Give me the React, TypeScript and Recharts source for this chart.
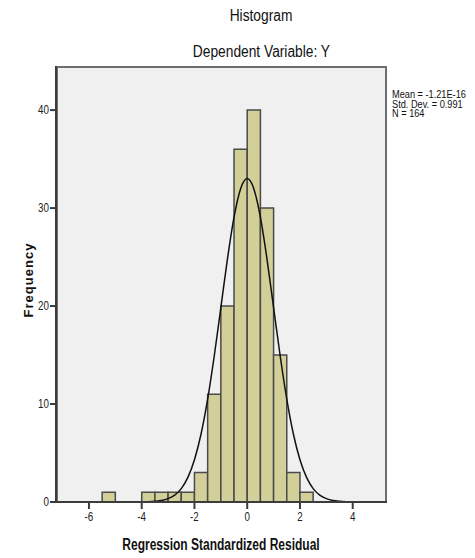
import { ComposedChart, Line, XAxis, YAxis, ReferenceArea } from "recharts";

// histogram bins (width 0.5) and counts
const binStarts = [-5.5, -4, -3.5, -3, -2.5, -2, -1.5, -1, -0.5, 0, 0.5, 1, 1.5, 2];
const binCounts = [1, 1, 1, 1, 1, 3, 11, 20, 36, 40, 30, 15, 3, 1];
const binWidth = 0.5;

// normal curve
const curveX = [
    -4.5, -4.25, -4, -3.75, -3.5, -3.25, -3, -2.75, -2.5, -2.25, -2, -1.75, -1.5, -1.25, -1, -0.75, -0.5, -0.25,
    0, 0.25, 0.5, 0.75, 1, 1.25, 1.5, 1.75, 2, 2.25, 2.5, 2.75, 3, 3.25, 3.5, 3.75, 4, 4.25, 4.5,
];
const curveY = [
    0, 0, 0.01, 0.03, 0.07, 0.15, 0.34, 0.7, 1.37, 2.51, 4.31, 6.94, 10.5, 14.9, 19.84, 24.79, 29.07, 31.98,
    33.01, 31.98, 29.07, 24.79, 19.84, 14.9, 10.5, 6.94, 4.31, 2.51, 1.37, 0.7, 0.34, 0.15, 0.07, 0.03, 0.01, 0, 0,
];

const xTicks = [-6, -4, -2, 0, 2, 4];
const yTicks = [0, 10, 20, 30, 40];
const statsLines = ["Mean = -1.21E-16", "Std. Dev. = 0.991", "N = 164"];

const curveData = curveX.map((x, i) => ({ x, y: curveY[i] }));

const sans = '"Liberation Sans", Arial, sans-serif';

// SPSS uses a narrow face; squeeze Liberation Sans horizontally
const NarrowTick = (props: any) => {
    const { x, y, payload, textAnchor } = props;
    return (
        <text
            x={0}
            y={0}
            transform={`translate(${x},${y}) scale(0.82,1)`}
            textAnchor={textAnchor}
            dominantBaseline={props.orientation === "bottom" ? "hanging" : "central"}
            fontFamily={sans}
            fontSize={12}
            fill="#222"
        >
            {payload.value}
        </text>
    );
};

export default function App() {
    return (
        <div
            style={{
                position: "absolute",
                left: 0,
                top: 0,
                width: 475,
                height: 558,
                background: "#fff",
                fontFamily: sans,
                overflow: "hidden",
            }}
        >
            <div
                style={{
                    position: "absolute",
                    left: 56,
                    top: 66,
                    width: 331,
                    height: 437,
                    boxSizing: "border-box",
                    background: "#f0f0f0",
                    border: "2px solid #6e6e6e",
                }}
            />
            <div style={{ position: "absolute", left: 0, top: 0 }}>
                <ComposedChart
                    width={475}
                    height={558}
                    data={curveData}
                    margin={{ top: 66, right: 88, bottom: 0, left: 0 }}
                >
                    <XAxis
                        dataKey="x"
                        type="number"
                        domain={[-7.25, 5.3]}
                        ticks={xTicks}
                        allowDataOverflow
                        height={56}
                        tickSize={7}
                        tickMargin={3}
                        axisLine={{ stroke: "#3c3c3c", strokeWidth: 2 }}
                        tickLine={{ stroke: "#3c3c3c", strokeWidth: 2 }}
                        tick={<NarrowTick orientation="bottom" />}
                    />
                    <YAxis
                        type="number"
                        domain={[0, 44.5]}
                        ticks={yTicks}
                        allowDataOverflow
                        width={56}
                        tickSize={6}
                        tickMargin={1}
                        axisLine={{ stroke: "#3c3c3c", strokeWidth: 2 }}
                        tickLine={{ stroke: "#3c3c3c", strokeWidth: 2 }}
                        tick={<NarrowTick orientation="left" />}
                    />
                    {binStarts.map((start, i) => (
                        <ReferenceArea
                            key={start}
                            x1={start}
                            x2={start + binWidth}
                            y1={0}
                            y2={binCounts[i]}
                            fill="#d3cf98"
                            fillOpacity={1}
                            stroke="#4a4a4a"
                            strokeWidth={1.5}
                        />
                    ))}
                    <Line
                        dataKey="y"
                        type="monotone"
                        stroke="#111"
                        strokeWidth={1.5}
                        dot={false}
                        activeDot={false}
                        isAnimationActive={false}
                    />
                </ComposedChart>
            </div>
            <div
                style={{
                    position: "absolute",
                    left: 0,
                    width: 522,
                    top: 7,
                    textAlign: "center",
                    fontSize: 16,
                    color: "#111",
                    transform: "scaleX(0.86)",
                    transformOrigin: "261px 0",
                }}
            >
                Histogram
            </div>
            <div
                style={{
                    position: "absolute",
                    left: 0,
                    width: 523,
                    top: 43,
                    textAlign: "center",
                    fontSize: 16,
                    color: "#111",
                    transform: "scaleX(0.86)",
                    transformOrigin: "261px 0",
                }}
            >
                Dependent Variable: Y
            </div>
            <div
                style={{
                    position: "absolute",
                    left: 28,
                    top: 280,
                    transform: "translate(-50%, -50%) rotate(-90deg)",
                    fontWeight: "bold",
                    fontSize: 13,
                    letterSpacing: 1,
                    whiteSpace: "nowrap",
                    color: "#111",
                }}
            >
                Frequency
            </div>
            <div
                style={{
                    position: "absolute",
                    left: 0,
                    width: 442,
                    top: 536,
                    textAlign: "center",
                    fontWeight: "bold",
                    fontSize: 16,
                    color: "#111",
                    transform: "scaleX(0.75)",
                    transformOrigin: "221px 0",
                }}
            >
                Regression Standardized Residual
            </div>
            <div
                style={{
                    position: "absolute",
                    left: 392,
                    top: 90,
                    fontSize: 10,
                    lineHeight: "9.5px",
                    color: "#111",
                    whiteSpace: "nowrap",
                    transform: "scaleX(0.92)",
                    transformOrigin: "0 0",
                }}
            >
                {statsLines.map((s) => (
                    <div key={s}>{s}</div>
                ))}
            </div>
        </div>
    );
}
